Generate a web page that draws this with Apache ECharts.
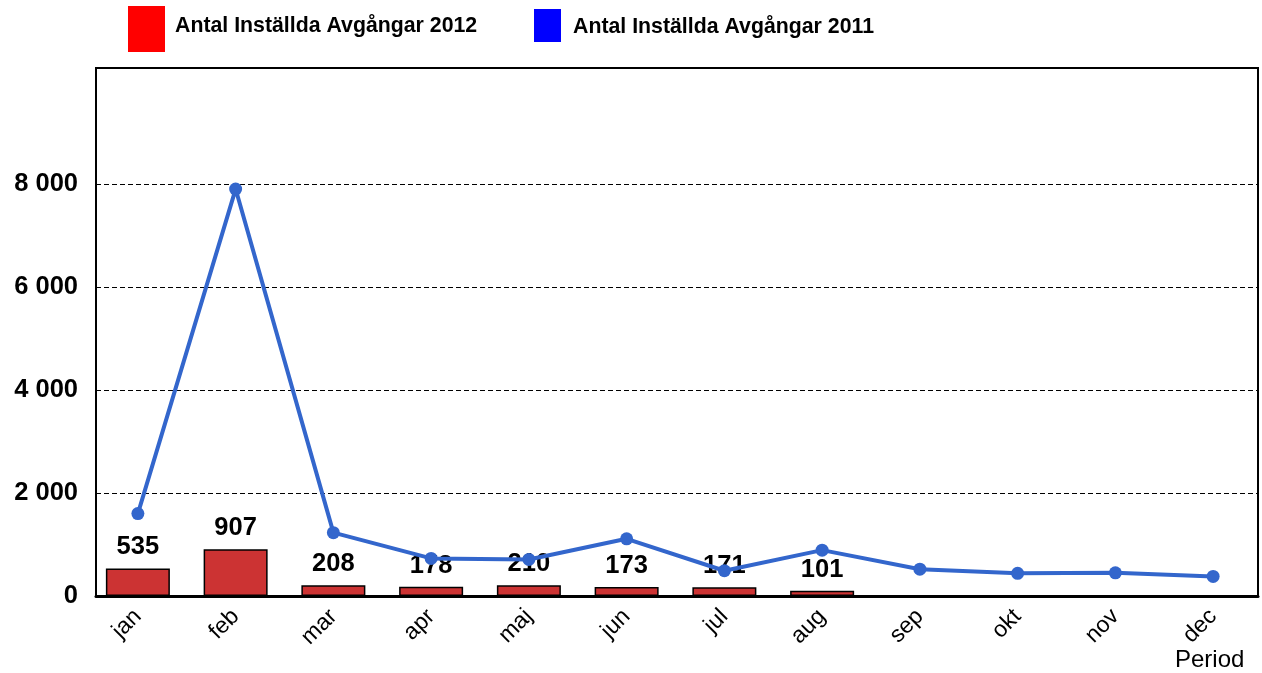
<!DOCTYPE html>
<html><head><meta charset="utf-8">
<script src="https://cdn.jsdelivr.net/npm/echarts@6/dist/echarts.min.js"></script>
<style>html,body{margin:0;padding:0;background:#fff}#c{width:1262px;height:673px}</style>
</head><body><div id="c"></div>
<script>
const months = ['jan','feb','mar','apr','maj','jun','jul','aug','sep','okt','nov','dec'];
const values2012 = [535, 907, 208, 178, 210, 173, 171, 101, null, null, null, null];
const values2011 = [1600, 7900, 1230, 730, 710, 1110, 490, 890, 520, 440, 450, 380];
const yMin = 0, yMax = 10250, yStep = 2000, yLabelMax = 8000;
const name2012 = 'Antal Inställda Avgångar 2012';
const name2011 = 'Antal Inställda Avgångar 2011';
const xTitle = 'Period';

function fmt(v){
  if (v > yLabelMax) return '';
  return String(Math.round(v)).replace(/\B(?=(\d{3})+(?!\d))/g, ' ');
}

const chart = echarts.init(document.getElementById('c'), null, {renderer:'canvas'});
const FF = 'Liberation Sans, Arial, sans-serif';
const legendFont = {fontFamily: FF, fontSize: 21.3, fontWeight: 'bold', color: '#000'};
chart.setOption({
  animation: false,
  backgroundColor: '#fff',
  textStyle: {fontFamily: FF},
  title: {text: xTitle, left: 1175, top: 648, padding: 0,
    textStyle: {fontFamily: FF, fontSize: 24, fontWeight: 'normal', color: '#000'}},
  legend: [
    {left: 128, top: 6, padding: 0, icon: 'rect', itemWidth: 37, itemHeight: 46,
     data: [{name: name2012, itemStyle: {color: '#ff0000', borderWidth: 0}}],
     formatter: n => '{a|' + n + '}',
     textStyle: Object.assign({}, legendFont, {rich: {a: Object.assign({}, legendFont, {padding: [0,0,6,5]})}})},
    {left: 534, top: 9, padding: 0, icon: 'rect', itemWidth: 27, itemHeight: 33,
     data: [{name: name2011, itemStyle: {color: '#0000ff', borderWidth: 0}}],
     formatter: n => '{a|' + n + '}',
     textStyle: Object.assign({}, legendFont, {rich: {a: Object.assign({}, legendFont, {padding: [3,0,0,7]})}})}
  ],
  grid: [
    {left: 96, right: 4, top: 68, bottom: 77, show: true, borderColor: '#000', borderWidth: 2},
    {left: 89, width: 1176, top: 68, bottom: 77}
  ],
  xAxis: [
    {gridIndex: 0, type: 'value', min: 0, max: 1,
     axisLine: {show: true, lineStyle: {color: '#000', width: 3}},
     axisTick: {show: false}, axisLabel: {show: false}, splitLine: {show: false}},
    {gridIndex: 1, type: 'category', data: months,
     axisLine: {show: false}, axisTick: {show: false},
     axisLabel: {rotate: 45, margin: 17, fontFamily: FF, fontSize: 23, color: '#000'}}
  ],
  yAxis: [
    {gridIndex: 0, type: 'value', min: yMin, max: yMax, interval: yStep,
     axisLine: {show: false}, axisTick: {show: false},
     axisLabel: {formatter: fmt, margin: 18, fontFamily: FF, fontSize: 25.5, fontWeight: 'bold', color: '#000'},
     splitLine: {show: true, lineStyle: {type: [5,3], width: 1.2,
       color: ['rgba(0,0,0,0)','#000','#000','#000','#000','rgba(0,0,0,0)','rgba(0,0,0,0)']}}},
    {gridIndex: 1, type: 'value', min: yMin, max: yMax, interval: yStep, show: false}
  ],
  series: [
    {name: name2012, type: 'bar', xAxisIndex: 1, yAxisIndex: 1, data: values2012,
     barWidth: 64, z: 2,
     itemStyle: {color: '#cc3333', borderColor: '#000', borderWidth: 1.5},
     label: {show: true, position: 'top', distance: 8, fontFamily: FF, fontSize: 25.5,
       fontWeight: 'bold', color: '#000'}},
    {name: name2011, type: 'line', xAxisIndex: 1, yAxisIndex: 1, data: values2011,
     z: 5, symbol: 'circle', symbolSize: 13,
     lineStyle: {color: '#3366cc', width: 4}, itemStyle: {color: '#3366cc'}}
  ]
});
</script></body></html>
